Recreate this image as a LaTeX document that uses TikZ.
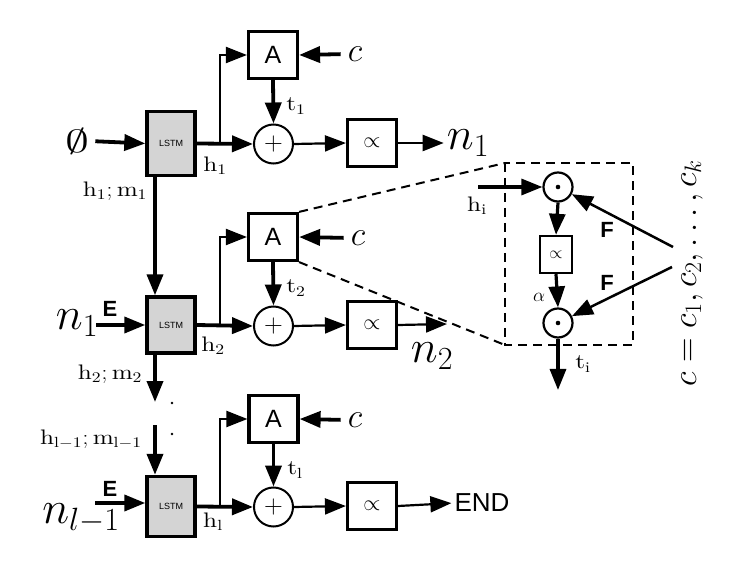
\RequirePackage{fix-cm}
\documentclass[tikz,border=0pt]{standalone}
\usepackage{fontspec}
\setmainfont{lmroman10-regular.otf}[BoldFont=lmroman10-bold.otf, ItalicFont=lmroman10-italic.otf]
\setsansfont{Liberation Sans}
\usetikzlibrary{arrows.meta}
\newcommand\myfs[1]{\fontsize{#1}{#1}\selectfont}
\begin{document}
\begin{tikzpicture}[x=1pt,y=-1pt,
  tk/.style={line width=3.8pt},
  tn/.style={line width=2.2pt},
  arr/.style={-{Triangle[length=21pt,width=16pt]}},
  lstm/.style={draw, line width=3.4pt, fill=black!17, minimum width=48pt, inner sep=0pt, font=\sffamily\myfs{9}},
  abox/.style={draw, line width=3.2pt, minimum width=49pt, minimum height=47pt, inner sep=0pt, font=\sffamily\myfs{25}},
  pbox/.style={draw, line width=3.2pt, minimum width=49pt, minimum height=47pt, inner sep=0pt, font=\myfs{22}},
  plusc/.style={draw, circle, line width=2pt, minimum size=39pt, inner sep=0pt, font=\myfs{26}},
  odotc/.style={draw, circle, line width=2.2pt, minimum size=29pt, inner sep=0pt},
  lbl/.style={inner sep=0pt, font=\myfs{21}, xscale=1.2},
  bigl/.style={inner sep=0pt, font=\myfs{46}},
  cl/.style={inner sep=0pt, font=\myfs{34}},
  sflbl/.style={inner sep=0pt, font=\sffamily\bfseries\myfs{22}},
  dsh/.style={line width=2pt, dash pattern=on 9pt off 6pt},
]
\useasboundingbox (0,0) rectangle (729,564);
\coordinate (vx) at (155,0);

% ---------- row 1
\node[inner sep=0pt, font=\myfs{32}, xscale=1.5] (e0) at (77,141) {$\emptyset$};
\node[lstm, minimum height=64pt] (L1) at (171,143.5) {LSTM};
\node[abox] (A1) at (273,55) {A};
\node[plusc] (P1) at (273.5,144) {$+$};
\node[pbox] (Q1) at (372,143) {$\propto$};
\node[cl] (c1) at (355,54) {$c$};
\node[bigl] (n1) at (468,143) {$n_1$};
\coordinate (b1) at (220,143.5);
\draw[tk,arr,shorten <=6pt] (e0.east) -- (L1.west);
\draw[tk,arr] (L1.east) -- (P1.west);
\draw[tn,arr] (b1) |- (A1.west);
\draw[tk,arr,shorten <=7pt] (c1.west) -- (A1.east);
\draw[tk,arr] (A1.south) -- (P1.north);
\draw[tn,arr] (P1.east) -- (Q1.west);
\draw[tn,arr,shorten >=3pt] (Q1.east) -- (n1.west);
\node[lbl] (lh1) at (215,166) {$\mathrm{h_1}$};
\node[lbl] (lt1) at (296,106) {$\mathrm{t_1}$};
\node[lbl] (lhm1) at (115,191) {$\mathrm{h_1;m_1}$};

% ---------- row 2
\node[lstm, minimum height=56pt] (L2) at (171,325) {LSTM};
\node[abox] (A2) at (273,237) {A};
\node[plusc] (P2) at (273.5,326) {$+$};
\node[pbox] (Q2) at (372,325) {$\propto$};
\node[cl] (c2) at (358,238) {$c$};
\node[bigl] (n1b) at (77,323) {$n_1$};
\node[sflbl] (E1) at (110,309) {E};
\node[bigl] (n2) at (432,356) {$n_2$};
\coordinate (s2) at (96,325);
\coordinate (b2) at (220,325);
\coordinate (n2a) at (447,324);
\draw[tk,arr] (L1.south -| vx) -- (L2.north -| vx);
\draw[tk,arr] (s2) -- (L2.west);
\draw[tk,arr] (L2.east) -- (P2.west);
\draw[tn,arr] (b2) |- (A2.west);
\draw[tk,arr,shorten <=7pt] (c2.west) -- (A2.east);
\draw[tk,arr] (A2.south) -- (P2.north);
\draw[tn,arr] (P2.east) -- (Q2.west);
\draw[tn,arr] (Q2.east) -- (n2a);
\node[lbl] (lh2) at (213,346) {$\mathrm{h_2}$};
\node[lbl] (lt2) at (296,288) {$\mathrm{t_2}$};
\node[lbl] (lhm2) at (110,374) {$\mathrm{h_2;m_2}$};

% ---------- dots between rows
\coordinate (d1) at (155,402);
\coordinate (d2) at (155,425);
\draw[tk,arr] (L2.south -| vx) -- (d1);
\fill (172,403) circle (1.3pt);
\fill (172,434) circle (1.3pt);
\node[lbl] (lhm3) at (91,439) {$\mathrm{h_{l-1};m_{l-1}}$};

% ---------- row 3
\node[lstm, minimum height=60pt] (L3) at (171,506.5) {LSTM};
\node[abox] (A3) at (273.5,419) {A};
\node[plusc] (P3) at (273.5,507) {$+$};
\node[pbox] (Q3) at (372,506) {$\propto$};
\node[cl] (c3) at (355,420) {$c$};
\node[bigl] (nl) at (81,518) {$n_{l-1}$};
\node[sflbl] (E2) at (110,489) {E};
\node[inner sep=0pt, font=\sffamily\myfs{26}] (END) at (482,503) {END};
\coordinate (s3) at (95,503);
\coordinate (b3) at (220,507);
\draw[tk,arr] (d2) -- (L3.north -| vx);
\draw[tk,arr] (s3) -- (s3 -| L3.west);
\draw[tk,arr] (L3.east) -- (P3.west);
\draw[tn,arr] (b3) |- (A3.west);
\draw[tk,arr,shorten <=7pt] (c3.west) -- (A3.east);
\draw[tk,arr] (A3.south) -- (P3.north);
\draw[tn,arr] (P3.east) -- (Q3.west);
\draw[tn,arr,shorten >=3pt] (Q3.east) -- (END.west);
\node[lbl] (lh3) at (213,522) {$\mathrm{h_l}$};
\node[lbl] (lt3) at (295,470) {$\mathrm{t_l}$};

% ---------- inset
\coordinate (bNW) at (505,163);
\coordinate (bSE) at (633,345);
\coordinate (bSW) at (505,345);
\draw[dsh] (bNW) rectangle (bSE);
\draw[dsh] (A2.north east) -- (bNW);
\draw[dsh] (A2.south east) -- (bSW);
\node[odotc] (O1) at (558,187) {};
\node[odotc] (O2) at (558,323) {};
\fill (O1) circle (2.3pt);
\fill (O2) circle (2.3pt);
\node[draw, line width=2.4pt, minimum width=32pt, minimum height=37pt, inner sep=0pt, font=\myfs{17}] (Qs) at (556,254.5) {$\propto$};
\coordinate (hi) at (478,187);
\coordinate (ti) at (558,390);
\coordinate (f1) at (673,247);
\coordinate (f2) at (672,267);
\draw[line width=3.2pt,arr] (hi) -- (O1.west);
\draw[line width=3.2pt,arr] (O1.south) -- (Qs.north);
\draw[line width=3.2pt,arr] (Qs.south) -- (O2.north);
\draw[line width=3.2pt,arr] (O2.south) -- (ti);
\draw[line width=2.5pt,arr] (f1) -- (O1);
\draw[line width=2.5pt,arr] (f2) -- (O2);
\node[lbl] (lhi) at (477,206) {$\mathrm{h_i}$};
\node[lbl] (lti) at (583,364) {$\mathrm{t_i}$};
\node[inner sep=0pt, font=\myfs{19}] (lal) at (539,297) {$\alpha$};
\node[sflbl] (F1) at (607,230) {F};
\node[sflbl] (F2) at (607,283) {F};
\node[cl, rotate=90] (cc) at (692,273) {$c = c_1, c_2, \ldots, c_k$};
\end{tikzpicture}
\end{document}
